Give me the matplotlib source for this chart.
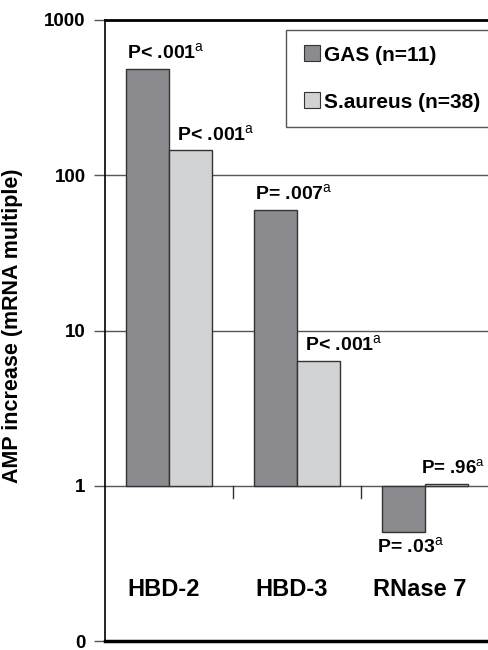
import matplotlib
matplotlib.use("Agg")
import matplotlib.pyplot as plt
import numpy as np
from matplotlib.lines import Line2D
import matplotlib.transforms as mtransforms

plt.rcParams['font.family'] = ['Liberation Sans', 'DejaVu Sans']
plt.rcParams['mathtext.fontset'] = 'custom'
plt.rcParams['mathtext.rm'] = 'Liberation Sans'

categories = ["HBD-2", "HBD-3", "RNase 7"]
series_names = ["GAS (n=11)", "S.aureus (n=38)"]
gas_values = [485, 60, 0.5]
saureus_values = [145, 6.4, 1.03]
gas_pvals = ["P< .001", "P= .007", "P= .03"]
saureus_pvals = ["P< .001", "P< .001", "P= .96"]
ytick_values = [0.1, 1, 10, 100, 1000]
ytick_labels = ["0", "1", "10", "100", "1000"]

gas_color = "#8b8b8f"
sa_color = "#d1d2d4"
edge = "#333333"

fig = plt.figure(figsize=(4.88, 6.5), dpi=100)
ax = fig.add_axes([105/488, 9/650, 384/488, 621/650])
ax.set_yscale('log')
ax.set_ylim(0.1, 1000)
ax.set_xlim(-0.5, len(categories) - 0.5)

x = np.arange(len(categories))
w = 0.336
gas_h = [v - 1 for v in gas_values]
sa_h = [v - 1 for v in saureus_values]
ax.bar(x - w/2, gas_h, width=w, bottom=1, color=gas_color, edgecolor=edge, linewidth=1, zorder=3)
ax.bar(x + w/2, sa_h, width=w, bottom=1, color=sa_color, edgecolor=edge, linewidth=1, zorder=3)

# gridlines
for v in [1, 10, 100]:
    ax.axhline(v, color="#555555", linewidth=1, zorder=1)
ax.axhline(1000, color="black", linewidth=2, zorder=1, clip_on=False)

# category separator ticks on the y=1 line
for b in x[:-1] + 0.5:
    ax.plot([b, b], [1, 10**(-12/156)], color="#333333", linewidth=1, zorder=2)

ax.set_yticks(ytick_values)
ax.set_yticklabels(ytick_labels, fontsize=13.5, fontweight='bold')
ax.minorticks_off()
ax.tick_params(axis='y', length=8, width=1, direction='out', pad=6, color="#555555")
ax.set_xticks([])

for s in ['right', 'top']:
    ax.spines[s].set_visible(False)
ax.spines['left'].set_linewidth(1.2)
ax.spines['bottom'].set_linewidth(2.5)

ax.set_ylabel("AMP increase (mRNA multiple)", fontsize=15.5, fontweight='bold')
ax.yaxis.set_label_coords(-0.213, 0.507)

# category labels
bl = mtransforms.blended_transform_factory(ax.transData, ax.transAxes)
for i, c in enumerate(categories):
    ax.text(i - 0.04, 0.073, c, transform=bl, ha='center', va='baseline',
            fontsize=17, fontweight='bold')

def ptext(xpos, yval, s, va='bottom', dy=3, size=14):
    ax.annotate(s + r"$^{\mathrm{a}}$", xy=(xpos, yval), xytext=(0, dy), textcoords='offset points',
                ha='left', va=va, fontsize=size, fontweight='bold', zorder=4)

last = len(categories) - 1
for i in range(len(categories)):
    gv = gas_values[i]
    sv = saureus_values[i]
    if gv >= 1:
        ptext(i - w + 0.01, gv, gas_pvals[i], va='bottom', dy=4)
    else:
        ptext(i - w - 0.04, gv, gas_pvals[i], va='top', dy=-3)
    if i == last:
        ptext(i - 0.03, sv, saureus_pvals[i], va='bottom', dy=4, size=13.5)
    else:
        ptext(i + 0.06, sv, saureus_pvals[i], va='bottom', dy=4)

handles = [Line2D([], [], marker='s', linestyle='none', markersize=11, markerfacecolor=gas_color,
                  markeredgecolor=edge, markeredgewidth=0.8),
           Line2D([], [], marker='s', linestyle='none', markersize=11, markerfacecolor=sa_color,
                  markeredgecolor=edge, markeredgewidth=0.8)]
leg = ax.legend(handles, series_names, loc='upper left', bbox_to_anchor=(0.471, 0.984),
                frameon=True, fancybox=False, edgecolor="#555555", framealpha=1,
                prop={'weight': 'bold', 'size': 15}, labelspacing=1.35, handletextpad=0.1,
                handlelength=1.0, borderpad=0.75, borderaxespad=0)
leg.get_frame().set_linewidth(1)

fig.savefig("out.png", dpi=100)
